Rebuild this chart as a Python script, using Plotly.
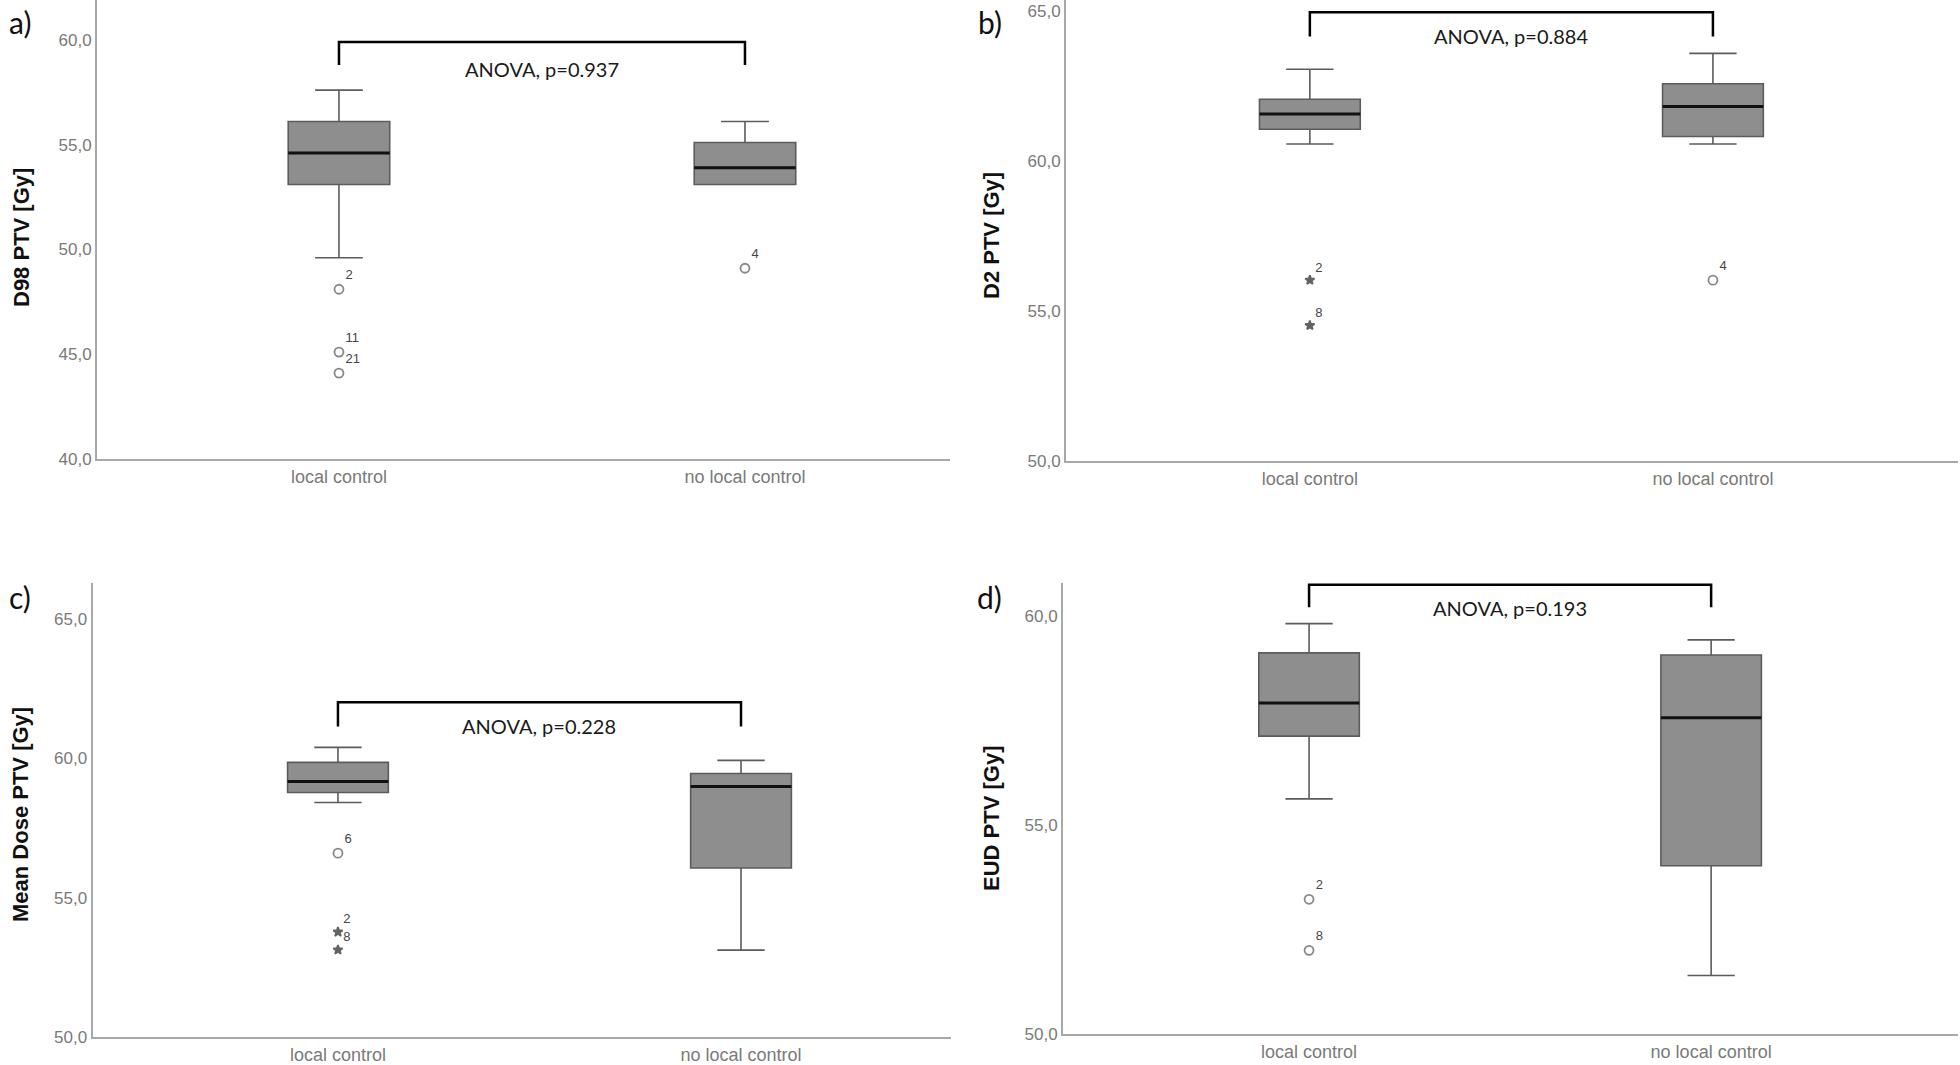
import plotly.graph_objects as go

categories = ["local control", "no local control"]

# Panel a) D98 PTV
a_q1 = [53.1, 53.1]
a_median = [54.6, 53.9]
a_q3 = [56.1, 55.1]
a_low = [49.6, 53.1]
a_high = [57.6, 56.1]
a_out_x = [0, 0, 0, 1]
a_out_y = [48.1, 45.1, 44.1, 49.1]
a_out_lab = ["2", "11", "21", "4"]
a_out_sym = ["circle-open", "circle-open", "circle-open", "circle-open"]

# Panel b) D2 PTV
b_q1 = [61.06, 60.82]
b_median = [61.57, 61.82]
b_q3 = [62.06, 62.58]
b_low = [60.57, 60.57]
b_high = [63.06, 63.59]
b_out_x = [0, 0, 1]
b_out_y = [56.03, 54.52, 56.03]
b_out_lab = ["2", "8", "4"]
b_out_sym = ["star", "star", "circle-open"]

# Panel c) Mean Dose PTV
c_q1 = [58.78, 56.07]
c_median = [59.17, 58.99]
c_q3 = [59.86, 59.46]
c_low = [58.42, 53.12]
c_high = [60.4, 59.93]
c_out_x = [0, 0, 0]
c_out_y = [56.6, 53.77, 53.13]
c_out_lab = ["6", "2", "8"]
c_out_sym = ["circle-open", "star", "star"]

# Panel d) EUD PTV
d_q1 = [57.12, 54.02]
d_median = [57.91, 57.56]
d_q3 = [59.11, 59.06]
d_low = [55.62, 51.4]
d_high = [59.81, 59.42]
d_out_x = [0, 0]
d_out_y = [53.22, 52.0]
d_out_lab = ["2", "8"]
d_out_sym = ["circle-open", "circle-open"]

y_titles = ["D98 PTV [Gy]", "D2 PTV [Gy]", "Mean Dose PTV [Gy]", "EUD PTV [Gy]"]
panel_labels = ["a)", "b)", "c)", "d)"]
anova_texts = ["ANOVA, p=0.937", "ANOVA, p=0.884", "ANOVA, p=0.228", "ANOVA, p=0.193"]
bracket_top = [59.9, 64.96, 62.02, 60.74]
bracket_end = [58.8, 64.15, 61.15, 60.2]
anova_y = [58.62, 64.16, 61.17, 60.18]

y_tickvals = [[40, 45, 50, 55, 60], [50, 55, 60, 65], [50, 55, 60, 65], [50, 55, 60]]
y_ranges = [[40, 61.9], [50, 65.37], [50, 66.3], [50, 60.78]]
x_ranges = [[-0.596, 1.505], [-0.605, 1.608], [-0.609, 1.521], [-0.612, 1.614]]

W, H = 1960, 1065
# pixel layout of each panel: (left, right, top, bottom)
panel_px = [(97, 950, 0, 459), (1066, 1958, 0, 461), (92.5, 951, 583, 1037), (1063, 1958, 583, 1034)]
label_px = [(20, 22), (990, 22), (20, 597), (990, 597)]
ytitle_px = [(22, 238), (991, 236), (20, 815), (991, 819)]

panels = [
    (a_q1, a_median, a_q3, a_low, a_high, a_out_x, a_out_y, a_out_lab, a_out_sym),
    (b_q1, b_median, b_q3, b_low, b_high, b_out_x, b_out_y, b_out_lab, b_out_sym),
    (c_q1, c_median, c_q3, c_low, c_high, c_out_x, c_out_y, c_out_lab, c_out_sym),
    (d_q1, d_median, d_q3, d_low, d_high, d_out_x, d_out_y, d_out_lab, d_out_sym),
]

BOX_W = 0.25
TICK_FONT = dict(family="Liberation Sans, Arial, sans-serif", size=17, color="#7a7a7a")
AXIS_COL = "#a8a8a8"

fig = go.Figure()
layout = dict(
    width=W, height=H, margin=dict(l=0, r=0, t=0, b=0, autoexpand=False),
    paper_bgcolor="white", plot_bgcolor="white", showlegend=False,
)
annotations = []

for i, (q1, med, q3, lo, hi, ox, oy, olab, osym) in enumerate(panels):
    n = "" if i == 0 else str(i + 1)
    xa, ya = "x" + n, "y" + n
    L, R, T, B = panel_px[i]
    pos = list(range(len(categories)))
    fig.add_trace(go.Box(
        x=pos, q1=q1, median=med, q3=q3, lowerfence=lo, upperfence=hi,
        width=BOX_W, whiskerwidth=0.47, fillcolor="#8e8e8e",
        line=dict(color="#5c5c5c", width=1.6), boxpoints=False,
        xaxis=xa, yaxis=ya, hoverinfo="skip",
    ))
    # medians in black
    for j, m in enumerate(med):
        fig.add_trace(go.Scatter(
            x=[pos[j] - BOX_W / 2, pos[j] + BOX_W / 2], y=[m, m], mode="lines",
            line=dict(color="#111111", width=3), xaxis=xa, yaxis=ya, hoverinfo="skip",
        ))
    # outliers
    mcol = ["#222222" if s == "star" else "#555555" for s in osym]
    fig.add_trace(go.Scatter(
        x=ox, y=oy, mode="markers+text", text=olab, textposition="top right",
        textfont=dict(family="Liberation Sans, Arial, sans-serif", size=13, color="#444444"),
        marker=dict(symbol=osym, size=[7 if s == "star" else 9 for s in osym],
                    color=mcol, line=dict(width=1.8, color=mcol)),
        xaxis=xa, yaxis=ya, hoverinfo="skip", cliponaxis=False,
    ))
    # significance bracket
    fig.add_trace(go.Scatter(
        x=[pos[0], pos[0], pos[1], pos[1]],
        y=[bracket_end[i], bracket_top[i], bracket_top[i], bracket_end[i]],
        mode="lines", line=dict(color="black", width=2.5),
        xaxis=xa, yaxis=ya, hoverinfo="skip", cliponaxis=False,
    ))
    annotations.append(dict(
        x=(pos[0] + pos[1]) / 2, y=anova_y[i], xref=xa, yref=ya, text=anova_texts[i],
        showarrow=False, font=dict(family="Lato, Open Sans, sans-serif", size=20, color="#1a1a1a"),
        xanchor="center", yanchor="middle",
    ))
    layout["xaxis" + n] = dict(
        domain=[L / W, R / W], anchor=ya, range=x_ranges[i], automargin=False,
        tickvals=pos, ticktext=categories, showline=True, linecolor=AXIS_COL, linewidth=2,
        showgrid=False, zeroline=False, ticks="", tickfont=dict(TICK_FONT, size=18),
        fixedrange=True,
    )
    layout["yaxis" + n] = dict(
        domain=[1 - B / H, 1 - T / H], anchor=xa, range=y_ranges[i], automargin=False,
        tickvals=y_tickvals[i], ticktext=[f"{v:.1f}".replace(".", ",") for v in y_tickvals[i]],
        showline=True, linecolor=AXIS_COL, linewidth=2, showgrid=False, zeroline=False,
        ticks="", tickfont=TICK_FONT, fixedrange=True,
    )
    annotations.append(dict(
        x=label_px[i][0] / W, y=1 - label_px[i][1] / H, xref="paper", yref="paper",
        text=panel_labels[i], showarrow=False, xanchor="center", yanchor="middle",
        font=dict(family="Lato, Open Sans, sans-serif", size=30, color="#111111"),
    ))
    annotations.append(dict(
        x=ytitle_px[i][0] / W, y=1 - ytitle_px[i][1] / H, xref="paper", yref="paper",
        text="<b>" + y_titles[i] + "</b>", showarrow=False, textangle=-90,
        xanchor="center", yanchor="middle",
        font=dict(family="Liberation Sans, Arial, sans-serif", size=22, color="#111111"),
    ))

layout["annotations"] = annotations
fig.update_layout(**layout)
fig.write_html(
    "out.html",
    config={"displayModeBar": False},
    post_script="document.body.style.margin='0px';document.body.style.overflow='hidden';",
)
